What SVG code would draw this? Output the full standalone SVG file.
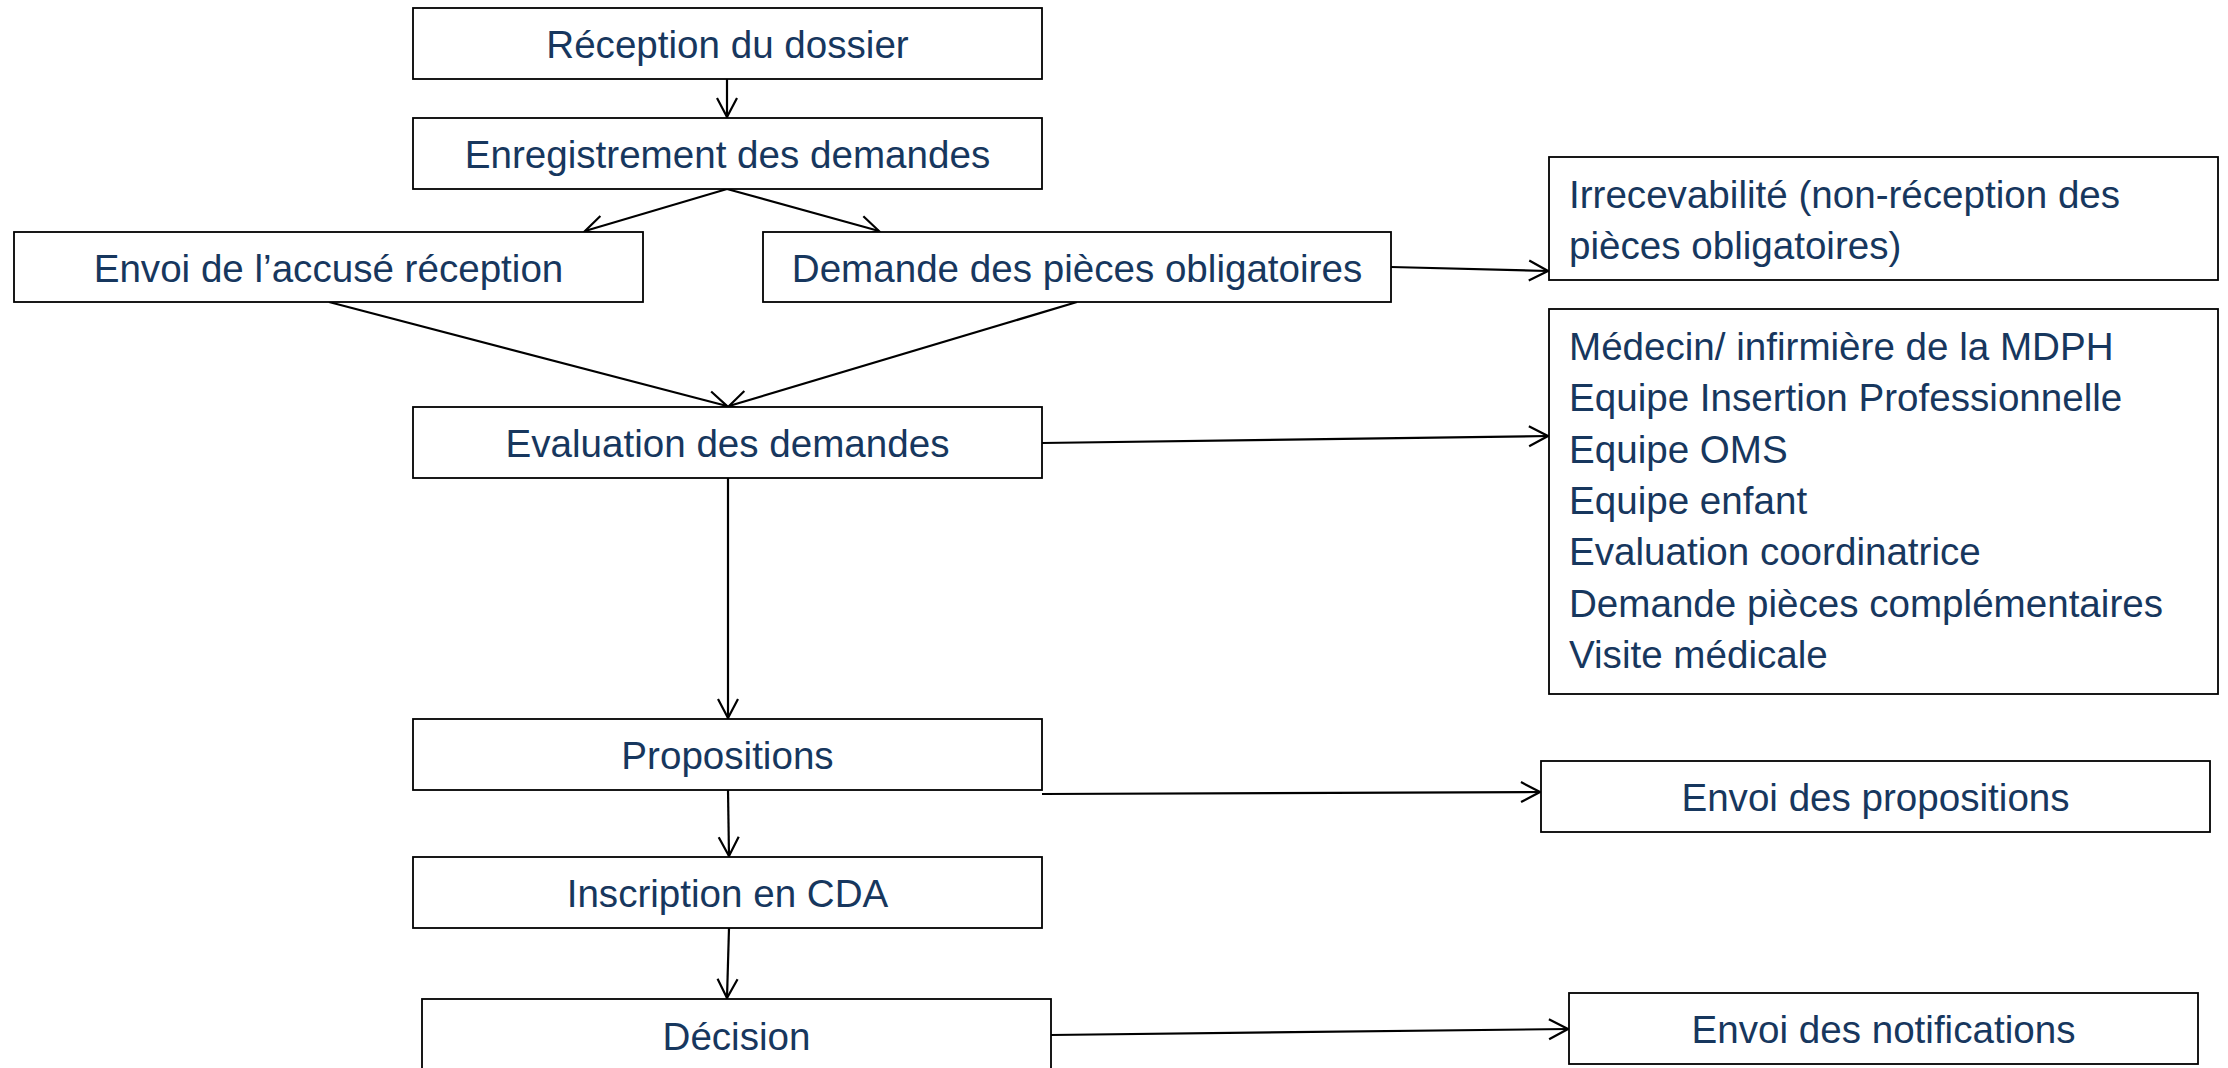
<svg xmlns="http://www.w3.org/2000/svg" width="2228" height="1068" viewBox="0 0 2228 1068">
<style>
.box{fill:#ffffff;stroke:#000000;stroke-width:1.8}
.t{font-family:"Liberation Sans",Arial,sans-serif;font-size:38.6px;fill:#17375E}
.c{text-anchor:middle}
.edge{fill:none;stroke:#000000;stroke-width:2.2;marker-end:url(#arr)}
</style>
<defs>
<marker id="arr" markerUnits="userSpaceOnUse" viewBox="-22 -12 24 24" refX="0" refY="0" markerWidth="24" markerHeight="24" orient="auto">
<path d="M-19,-10 L0,0 L-19,10" fill="none" stroke="#000000" stroke-width="2.2"/>
</marker>
</defs>
<rect width="2228" height="1068" fill="#ffffff"/>
<g id="connectors">
<path class="edge" d="M727,79 L727,117"/>
<path class="edge" d="M727,189 L585,231"/>
<path class="edge" d="M727,189 L879,231"/>
<path class="edge" d="M329,302 L727,406"/>
<path class="edge" d="M1077,302 L729,406"/>
<path class="edge" d="M1391,267 L1548,271"/>
<path class="edge" d="M1042,443 L1548,436"/>
<path class="edge" d="M728,478 L728,718"/>
<path class="edge" d="M1042,794 L1540,792"/>
<path class="edge" d="M728,790 L729,856"/>
<path class="edge" d="M729,928 L727,998"/>
<path class="edge" d="M1051,1035 L1568,1029"/>
</g>
<g id="n-reception"><rect class="box" x="413" y="8" width="629" height="71"/><text class="t c" x="727.5" y="58">Réception du dossier</text></g>
<g id="n-enregistrement"><rect class="box" x="413" y="118" width="629" height="71"/><text class="t c" x="727.5" y="168">Enregistrement des demandes</text></g>
<g id="n-accuse"><rect class="box" x="14" y="232" width="629" height="70"/><text class="t c" x="328.5" y="282">Envoi de l’accusé réception</text></g>
<g id="n-pieces"><rect class="box" x="763" y="232" width="628" height="70"/><text class="t c" x="1077" y="282">Demande des pièces obligatoires</text></g>
<g id="n-irrecevabilite"><rect class="box" x="1549" y="157" width="669" height="123"/><text class="t" x="1569" y="208">Irrecevabilité (non-réception des</text><text class="t" x="1569" y="259">pièces obligatoires)</text></g>
<g id="n-evaluateurs"><rect class="box" x="1549" y="309" width="669" height="385"/>
<text class="t" x="1569" y="360">Médecin/ infirmière de la MDPH</text>
<text class="t" x="1569" y="411">Equipe Insertion Professionnelle</text>
<text class="t" x="1569" y="463">Equipe OMS</text>
<text class="t" x="1569" y="514">Equipe enfant</text>
<text class="t" x="1569" y="565">Evaluation coordinatrice</text>
<text class="t" x="1569" y="617">Demande pièces complémentaires</text>
<text class="t" x="1569" y="668">Visite médicale</text>
</g>
<g id="n-evaluation"><rect class="box" x="413" y="407" width="629" height="71"/><text class="t c" x="727.5" y="457">Evaluation des demandes</text></g>
<g id="n-propositions"><rect class="box" x="413" y="719" width="629" height="71"/><text class="t c" x="727.5" y="769">Propositions</text></g>
<g id="n-envoi-propositions"><rect class="box" x="1541" y="761" width="669" height="71"/><text class="t c" x="1875.5" y="811">Envoi des propositions</text></g>
<g id="n-inscription"><rect class="box" x="413" y="857" width="629" height="71"/><text class="t c" x="727.5" y="907">Inscription en CDA</text></g>
<g id="n-decision"><rect class="box" x="422" y="999" width="629" height="90"/><text class="t c" x="736.5" y="1050">Décision</text></g>
<g id="n-notifications"><rect class="box" x="1569" y="993" width="629" height="71"/><text class="t c" x="1883.5" y="1043">Envoi des notifications</text></g>
</svg>
